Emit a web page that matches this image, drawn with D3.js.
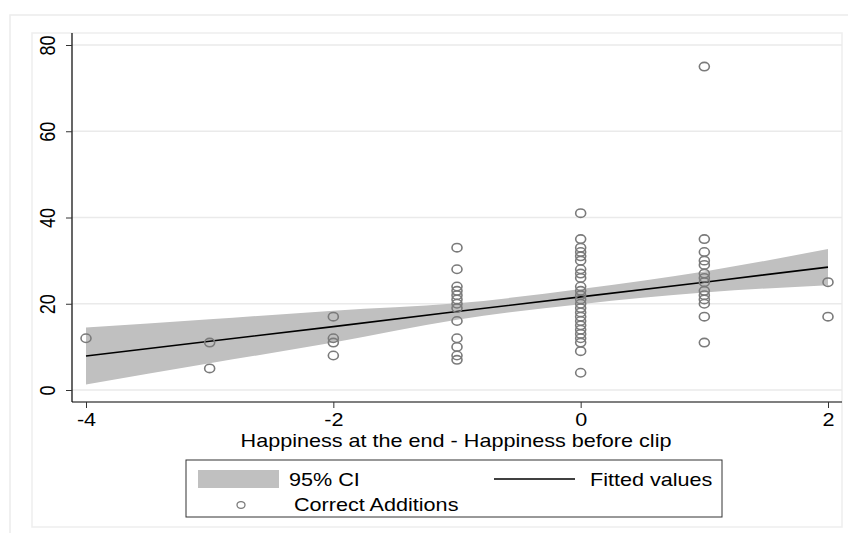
<!DOCTYPE html>
<html>
<head>
<meta charset="utf-8">
<script src="https://cdn.jsdelivr.net/npm/d3@7"></script>
<style>
  body { margin: 0; background: #fff; }
  text { font-family: "Liberation Sans", Arial, sans-serif; }
</style>
</head>
<body>
<svg width="848" height="533"></svg>
<script>
// scatter: happiness change vs correct additions
const xs = [-4, -3, -3, -2, -2, -2, -2,
  -1, -1, -1, -1, -1, -1, -1, -1, -1, -1, -1, -1, -1,
  0, 0, 0, 0, 0, 0, 0, 0, 0, 0, 0, 0, 0, 0, 0, 0, 0, 0, 0, 0, 0, 0, 0, 0, 0,
  1, 1, 1, 1, 1, 1, 1, 1, 1, 1, 1, 1, 1, 1,
  2, 2];
const ys = [12, 11, 5, 17, 12, 11, 8,
  33, 28, 24, 23, 22, 21, 20, 19, 16, 12, 10, 8, 7,
  41, 35, 33, 32, 31, 30, 28, 27, 26, 24, 23, 22, 21, 20, 19, 18, 17, 16, 15, 14, 13, 12, 11, 9, 4,
  75, 35, 32, 30, 29, 27, 26, 25, 23, 22, 21, 20, 17, 11,
  25, 17];

// fitted line and 95% CI band
const fitX = [-4, -3, -2, -1, 0, 1, 2];
const fitY = [7.9, 11.3, 14.7, 18.2, 21.6, 25.0, 28.5];
const ciLo = [1.3, 6.2, 11.0, 16.3, 19.9, 22.6, 24.3];
const ciHi = [14.5, 16.4, 18.4, 20.1, 23.4, 27.5, 32.7];

const xTicks = [-4, -2, 0, 2];
const yTicks = [0, 20, 40, 60, 80];

const svg = d3.select("svg");
const SX = 1.2; // the original graph is stretched sideways
const FS = 18;

// puts text at (x, y) with the sideways stretch
function stretched(sel, tx, ty, extra) {
  return sel.attr("x", 0).attr("y", 0)
    .attr("transform", `translate(${tx},${ty}) scale(${SX},1)` + (extra || ""));
}

// outer and inner regions
svg.append("rect").attr("x", 10).attr("y", 15).attr("width", 850).attr("height", 530)
  .attr("fill", "#fff").attr("stroke", "#ececec").attr("stroke-width", 1.5);
svg.append("rect").attr("x", 32).attr("y", 33).attr("width", 810).attr("height", 494)
  .attr("fill", "#fff").attr("stroke", "#eeeeee").attr("stroke-width", 1.5);

const x = d3.scaleLinear().domain([-4, 2]).range([86, 828]);
const y = d3.scaleLinear().domain([0, 80]).range([390, 45]);

// gridlines
svg.append("g").selectAll("line").data(yTicks).enter().append("line")
  .attr("x1", 72).attr("x2", 842)
  .attr("y1", d => y(d)).attr("y2", d => y(d))
  .attr("stroke", "#eaeaea").attr("stroke-width", 1.5);

// CI band
const band = fitX.map((v, i) => ({ x: v, lo: ciLo[i], hi: ciHi[i] }));
svg.append("path").datum(band)
  .attr("fill", "#c0c0c0")
  .attr("d", d3.area().x(d => x(d.x)).y0(d => y(d.lo)).y1(d => y(d.hi)).curve(d3.curveMonotoneX));

// fitted line
svg.append("path").datum(fitX.map((v, i) => [v, fitY[i]]))
  .attr("fill", "none").attr("stroke", "#000").attr("stroke-width", 1.6)
  .attr("d", d3.line().x(d => x(d[0])).y(d => y(d[1])));

// points
svg.append("g").selectAll("ellipse").data(xs.map((v, i) => [v, ys[i]])).enter().append("ellipse")
  .attr("cx", d => x(d[0])).attr("cy", d => y(d[1])).attr("rx", 5).attr("ry", 4.2)
  .attr("fill", "none").attr("stroke", "#7a7a7a").attr("stroke-width", 1.6);

// axes
const yAxis = svg.append("g").attr("transform", "translate(72,0)")
  .call(d3.axisLeft(y).tickValues(yTicks).tickSize(6).tickSizeOuter(0));
yAxis.select(".domain").attr("d", "M0,33V402").attr("stroke", "#000").attr("stroke-width", 1.2);
yAxis.selectAll(".tick line").attr("stroke", "#333");
yAxis.selectAll(".tick text")
  .attr("font-size", FS).attr("fill", "#000").attr("dy", 0)
  .attr("text-anchor", "middle").attr("dominant-baseline", "central")
  .each(function () { stretched(d3.select(this), -25, 0, " rotate(-90)"); });

const xAxis = svg.append("g").attr("transform", "translate(0,402)")
  .call(d3.axisBottom(x).tickValues(xTicks).tickFormat(d => String(d)).tickSize(6).tickSizeOuter(0));
xAxis.select(".domain").attr("d", "M72,0H842").attr("stroke", "#000").attr("stroke-width", 1.2);
xAxis.selectAll(".tick line").attr("stroke", "#333");
xAxis.selectAll(".tick text").attr("font-size", FS).attr("fill", "#000").attr("dy", 0)
  .each(function () { stretched(d3.select(this), 0, 24); });

stretched(svg.append("text"), 456, 447).attr("text-anchor", "middle")
  .attr("font-size", FS).text("Happiness at the end - Happiness before clip");

// legend
const lg = svg.append("g");
lg.append("rect").attr("x", 186).attr("y", 460).attr("width", 536).attr("height", 57)
  .attr("fill", "#fff").attr("stroke", "#333").attr("stroke-width", 1);
lg.append("rect").attr("x", 198).attr("y", 470).attr("width", 81).attr("height", 18).attr("fill", "#c0c0c0");
stretched(lg.append("text"), 289, 486).attr("font-size", FS).text("95% CI");
lg.append("line").attr("x1", 494).attr("x2", 575).attr("y1", 479).attr("y2", 479)
  .attr("stroke", "#000").attr("stroke-width", 1.6);
stretched(lg.append("text"), 590, 486).attr("font-size", FS).text("Fitted values");
lg.append("ellipse").attr("cx", 241).attr("cy", 505).attr("rx", 4).attr("ry", 3.4)
  .attr("fill", "none").attr("stroke", "#7a7a7a").attr("stroke-width", 1.3);
stretched(lg.append("text"), 294, 511).attr("font-size", FS).text("Correct Additions");
</script>
</body>
</html>
